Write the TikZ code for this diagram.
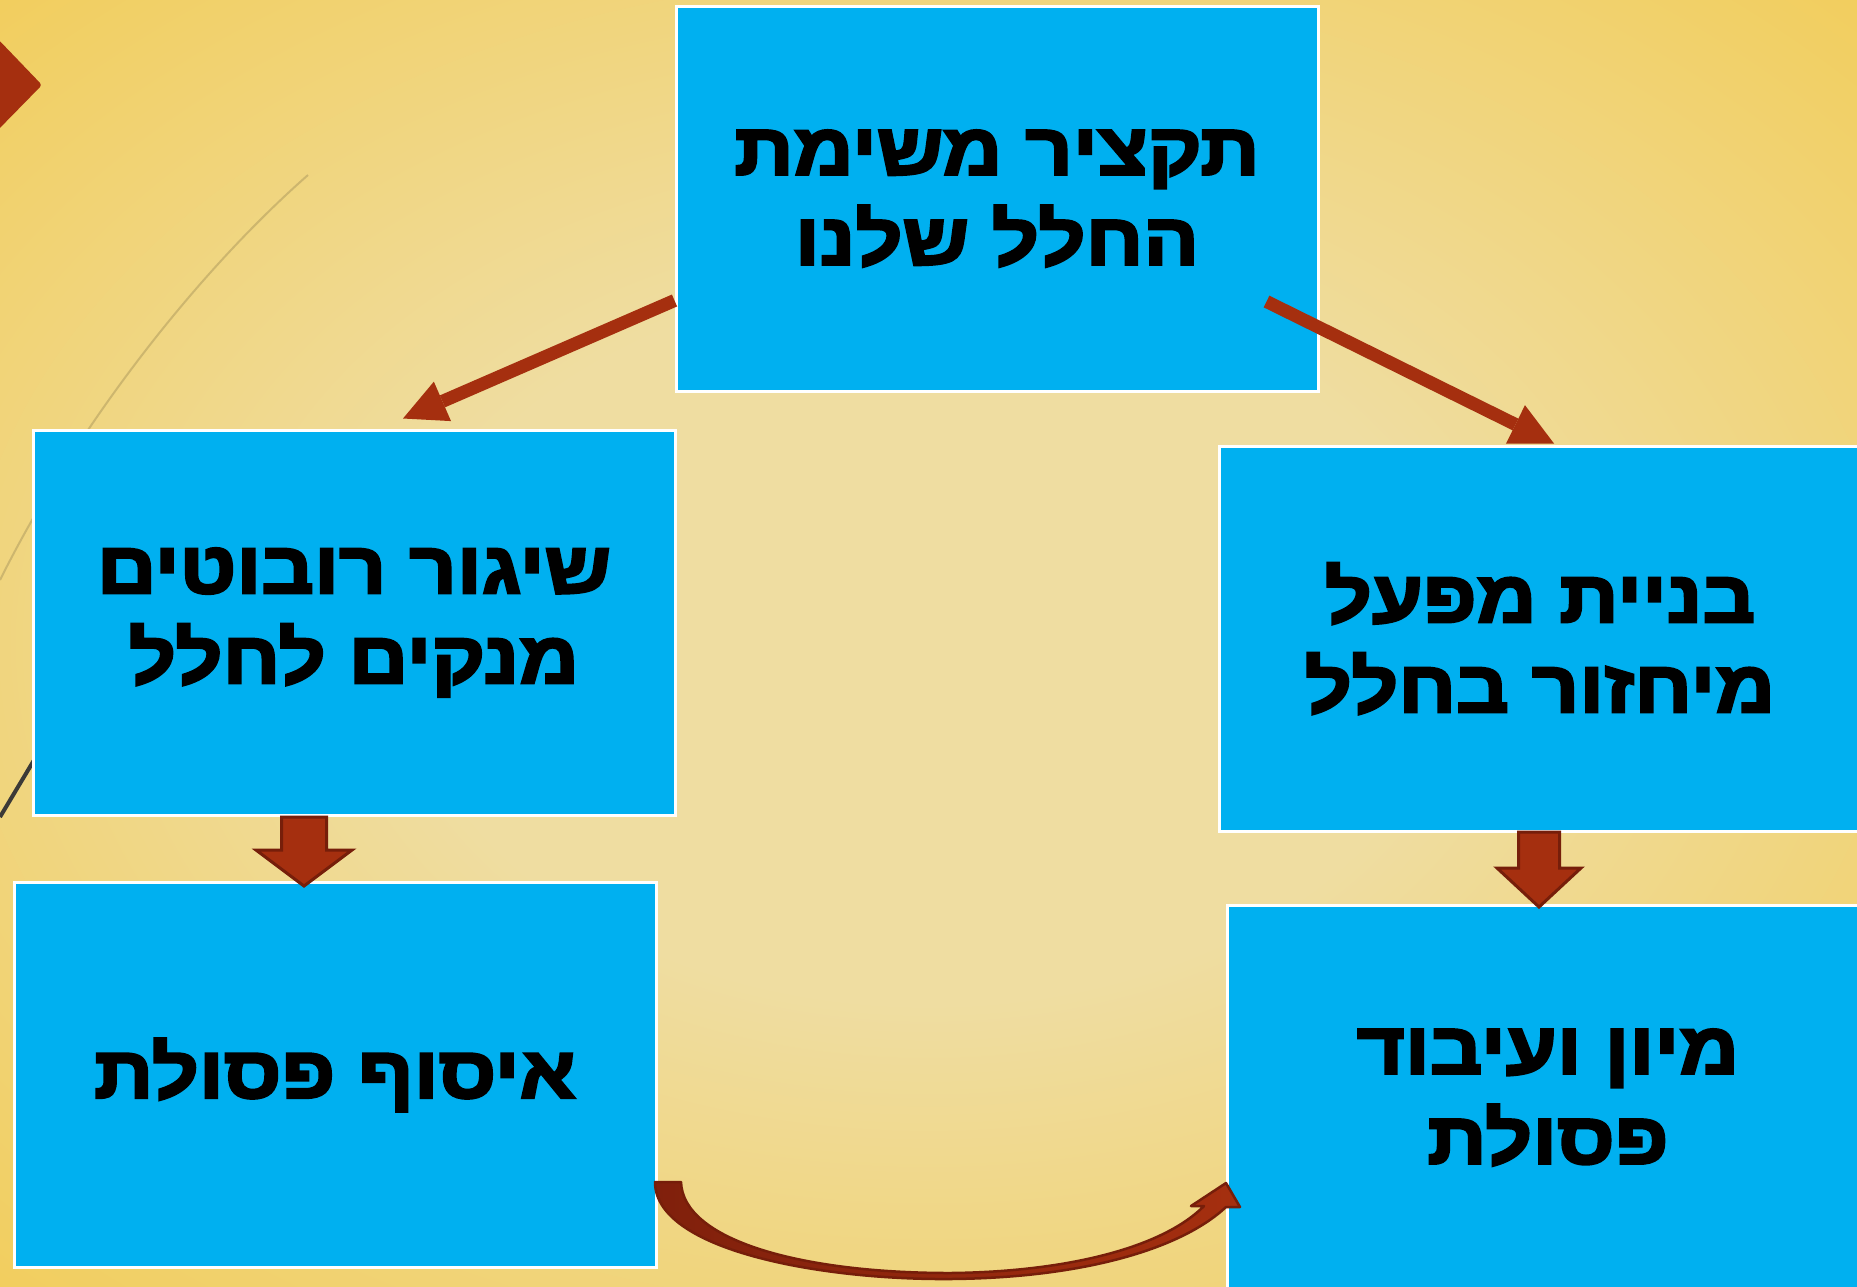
\documentclass[tikz,border=0pt]{standalone}
\usepackage{fontspec}
\setmainfont{Liberation Sans}
\newfontfamily\hebfont[Script=Hebrew, FakeStretch=1.13, BoldFeatures={FakeBold=3.5}]{Liberation Sans}
\TeXXeTstate=1
\usetikzlibrary{arrows.meta,calc}
\definecolor{boxblue}{RGB}{0,176,240}
\definecolor{arrred}{RGB}{165,47,15}
\definecolor{arrdark}{RGB}{118,30,10}
\definecolor{curvedark}{RGB}{128,32,12}
\definecolor{bginner}{RGB}{239,221,161}
\definecolor{bgouter}{RGB}{242,204,86}
\definecolor{tanline}{RGB}{205,182,110}
\definecolor{darkline}{RGB}{60,58,55}
\pgfdeclareradialshading{bgshade}{\pgfpoint{0bp}{0bp}}{color(0bp)=(bginner); color(14bp)=(bginner); color(38bp)=(bgouter); color(50bp)=(bgouter)}
\begin{document}
\begin{tikzpicture}[x=1pt,y=-1pt,
  box/.style={draw=white, line width=3pt, fill=boxblue, minimum width=642pt, minimum height=385pt, inner sep=0pt, align=center, text=black, font=\hebfont\bfseries\fontsize{73}{90}\selectfont},
  link/.style={draw=arrred, line width=13pt, -{Triangle[length=43pt,width=43pt,line width=0pt]}},
  blockarrow/.style={fill=arrred, draw=arrdark, line width=3pt, line join=miter},
]
\useasboundingbox (0,0) rectangle (1857,1286);
\clip (0,0) rectangle (1857,1286);
\shade[shading=bgshade] (0,0) rectangle (1857,1286);
% background decorations
\fill[arrred, rounded corners=3pt] (-6,35) -- (42,85) -- (-6,134) -- cycle;
\draw[tanline, line width=2pt] (308,175) .. controls (200,270) and (80,420) .. (0,580);
\draw[darkline, line width=4pt] (70,700) -- (0,817);
% boxes
\node[box] (top) at (997,198.5) {\beginR תקציר משימת\endR\\\beginR החלל שלנו\endR};
\node[box] (left) at (354,622.5) {\beginR שיגור רובוטים\endR\\\beginR מנקים לחלל\endR};
\node[box] (right) at (1540,638.5) {\beginR בניית מפעל\endR\\\beginR מיחזור בחלל\endR};
\node[box] (bl) at (335,1075) {\beginR איסוף פסולת\endR};
\node[box] (br) at (1548,1097.5) {\beginR מיון ועיבוד\endR\\\beginR פסולת\endR};
% connectors
\draw[link] ($(top.south west)+(0,-92)$) -- ($(left.north)+(49,-10)$);
\draw[link] ($(top.south east)+(-53,-91)$) -- ($(right.north)+(14,-1)$);
% block arrows
\path[blockarrow] (281.5,817) -- (326.5,817) -- (326.5,850) -- (352,850) -- (304,886) -- (256,850) -- (281.5,850) -- cycle;
\path[blockarrow] (1518.5,832) -- (1559.5,832) -- (1559.5,868) -- (1581,868) -- (1539,907) -- (1497,868) -- (1518.5,868) -- cycle;
% curved arrow
\shadedraw[left color=curvedark, right color=arrred, draw=arrdark, line width=2.5pt, line join=round]
  (655,1182) .. controls (655,1250) and (820,1280) .. (950,1279)
  .. controls (1080,1278) and (1180,1250) .. (1226,1207)
  -- (1240,1207) -- (1226,1183) -- (1191,1206) -- (1204,1206)
  .. controls (1160,1250) and (1060,1272) .. (950,1273)
  .. controls (800,1273) and (683,1240) .. (681,1182) -- cycle;
\end{tikzpicture}
\end{document}
